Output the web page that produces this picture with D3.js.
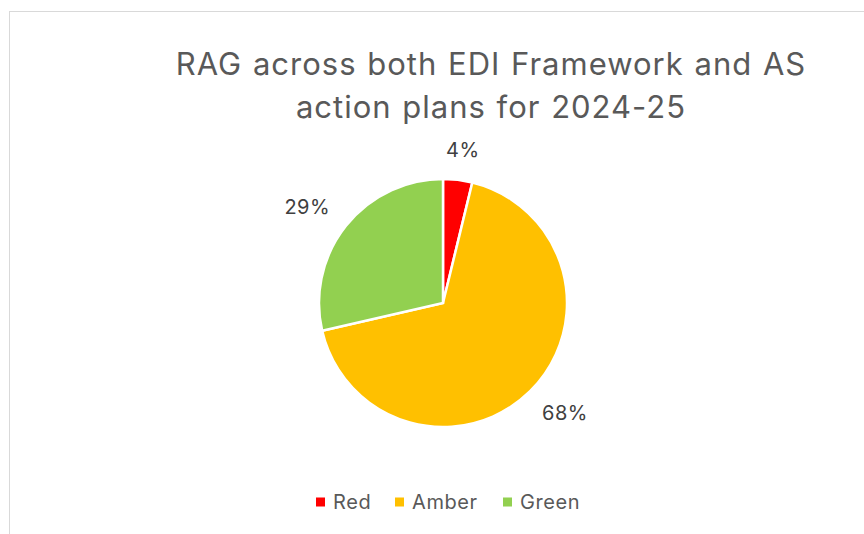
<html><head>
<script src="https://cdn.jsdelivr.net/npm/d3@7"></script>
<style>
  body { margin: 0; background: #fff; }
  text { font-family: Inter, "Open Sans", "Liberation Sans", Arial, sans-serif; }
</style>
</head>
<body>
<svg id="chart" width="864" height="534"></svg>
<script>
// data
let categories = ["Red", "Amber", "Green"];
let values = [3.8, 67.6, 28.6];
let colors = ["#ff0000", "#ffc000", "#92d050"];
let titleLines = ["RAG across both EDI Framework and AS", "action plans for 2024-25"];

let svg = d3.select("#chart");

// chart area border
svg.append("rect")
  .attr("x", 9.5).attr("y", 11.5)
  .attr("width", 900).attr("height", 600)
  .style("fill", "none")
  .style("stroke", "#d9d9d9");

// title
svg.append("text")
  .attr("x", 491).attr("y", 75)
  .attr("text-anchor", "middle")
  .style("font-size", "31px")
  .style("letter-spacing", "1px")
  .style("word-spacing", "1px")
  .style("fill", "#595959")
  .selectAll("tspan")
  .data(titleLines)
  .join("tspan")
  .attr("x", 491)
  .attr("dy", (d, i) => i == 0 ? 0 : 43)
  .text(d => d);

let cx = 443, cy = 303, r = 124;
let pie = d3.pie().sort(null).value(d => d);
let arcs = pie(values);
let arc = d3.arc().innerRadius(0).outerRadius(r);

let g = svg.append("g").attr("transform", "translate(" + cx + "," + cy + ")");

g.selectAll("path")
  .data(arcs)
  .join("path")
  .attr("d", arc)
  .style("fill", (d, i) => colors[i])
  .style("stroke", "#fff")
  .style("stroke-width", 2.5);

// percentage labels outside the pie, pushed out by part of their box
let labelArc = d3.arc().innerRadius(r + 22).outerRadius(r + 22);
let total = d3.sum(values);
let lbl = g.selectAll(".lbl")
  .data(arcs)
  .join("text")
  .attr("class", "lbl")
  .attr("text-anchor", "middle")
  .attr("dy", "0.35em")
  .style("font-size", "20px")
  .style("letter-spacing", "0.5px")
  .style("fill", "#404040")
  .text(d => Math.round(d.value / total * 100) + "%");
lbl.attr("transform", function(d) {
  let c = labelArc.centroid(d);
  let a = (d.startAngle + d.endAngle) / 2;
  let b = this.getBBox();
  return "translate(" + (c[0] + b.width * 0.6 * Math.sin(a)) + "," + (c[1] - 8 * Math.cos(a)) + ")";
});

// legend
let legendX = [316, 395, 503];
let legend = svg.selectAll(".leg")
  .data(categories)
  .join("g")
  .attr("class", "leg")
  .attr("transform", (d, i) => "translate(" + legendX[i] + ",502)");
legend.append("rect")
  .attr("x", 0).attr("y", -4.5)
  .attr("width", 9).attr("height", 9)
  .style("fill", (d, i) => colors[i]);
legend.append("text")
  .attr("x", 17).attr("dy", "0.35em")
  .style("font-size", "20px")
  .style("letter-spacing", "0.6px")
  .style("fill", "#595959")
  .text(d => d);
</script>
</body></html>
